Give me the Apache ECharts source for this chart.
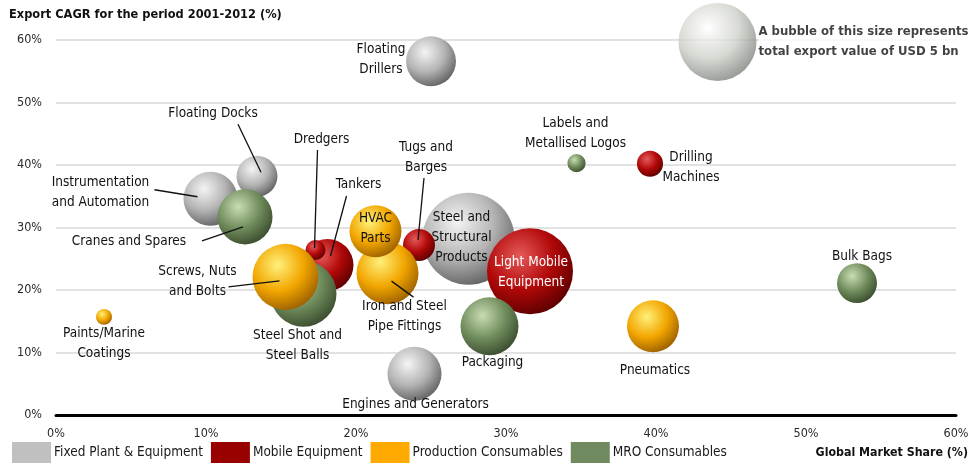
<!DOCTYPE html>
<html>
<head>
<meta charset="utf-8">
<script src="https://cdn.jsdelivr.net/npm/echarts@6/dist/echarts.min.js"></script>
<style>
  html, body { margin: 0; padding: 0; background: #ffffff; }
  #chart { width: 975px; height: 463px; }
</style>
</head>
<body>
<div id="chart"></div>
<script>
// Product groups (legend order)
const groups = ['Fixed Plant & Equipment', 'Mobile Equipment', 'Production Consumables', 'MRO Consumables'];

// Products: group index, global market share (%), export CAGR 2001-2012 (%), export value (USD bn)
const products = [
  'Floating Drillers', 'Floating Docks', 'Instrumentation and Automation', 'Steel and Structural Products', 'Engines and Generators',
  'Tankers', 'Dredgers', 'Tugs and Barges', 'Light Mobile Equipment', 'Drilling Machines',
  'Iron and Steel Pipe Fittings', 'HVAC Parts', 'Screws, Nuts and Bolts', 'Pneumatics', 'Paints/Marine Coatings',
  'Cranes and Spares', 'Steel Shot and Steel Balls', 'Packaging', 'Labels and Metallised Logos', 'Bulk Bags'
];
const productGroup = [0, 0, 0, 0, 0, 1, 1, 1, 1, 1, 2, 2, 2, 2, 2, 3, 3, 3, 3, 3];
const marketShare = [25.0, 13.4, 10.3, 27.5, 23.9, 18.1, 17.3, 24.2, 31.6, 39.6, 22.1, 21.3, 15.3, 39.8, 3.2, 12.6, 16.5, 28.9, 34.7, 53.4];
const exportCagr  = [56.6, 38.2, 34.6, 28.2, 6.6, 24.0, 26.4, 27.2, 23.0, 40.2, 22.7, 29.4, 22.1, 14.2, 15.7, 31.7, 19.4, 14.2, 40.3, 21.1];
const exportValue = [2.05, 1.38, 2.40, 6.96, 2.40, 2.22, 0.33, 0.84, 6.08, 0.56, 3.16, 2.22, 3.58, 2.22, 0.21, 2.49, 3.58, 2.76, 0.27, 1.31];

// Size key bubble
const keyValue = 5;
const keyPosition = [44.1, 59.7];
const keyText = 'A bubble of this size represents\ntotal export value of USD 5 bn';

// Axis ticks
const tickValues = [0, 10, 20, 30, 40, 50, 60];

// ---- styling ----
const FONT = '"Liberation Sans Narrow", "Arial Narrow", "DejaVu Sans Condensed", sans-serif';
const KEY_DIAMETER = 78;
const bubbleSize = (v) => KEY_DIAMETER * Math.sqrt(v / keyValue);

const flatColors = ['#c0c0c0', '#990000', '#ffaa00', '#6f8a5f'];
const sphereStops = [
  ['#f4f4f4', '#b4b4b4', '#626262'],
  ['#e65a5a', '#b10808', '#5c0000'],
  ['#fff07a', '#f2a600', '#9c6000'],
  ['#c9dcb4', '#708c5c', '#3a4c2e']
];
const sphere = (stops) => ({
  type: 'radial', x: 0.38, y: 0.32, r: 0.72,
  colorStops: [
    { offset: 0, color: stops[0] },
    { offset: 0.55, color: stops[1] },
    { offset: 1, color: stops[2] }
  ]
});
const groupZ = [2, 3, 5, 4];

// Label placement relative to bubble centre (px)
const labelStyle = {
  'Floating Drillers': { text: 'Floating\nDrillers', offset: [-50, -2] },
  'Floating Docks': { text: 'Floating Docks', offset: [-44, -63] },
  'Instrumentation and Automation': { text: 'Instrumentation\nand Automation', offset: [-110, -6] },
  'Steel and Structural Products': { text: 'Steel and\nStructural\nProducts', offset: [-7, -1] },
  'Engines and Generators': { text: 'Engines and Generators', offset: [1, 31] },
  'Tankers': { text: 'Tankers', offset: [31, -81] },
  'Dredgers': { text: 'Dredgers', offset: [6, -111] },
  'Tugs and Barges': { text: 'Tugs and\nBarges', offset: [7, -88] },
  'Light Mobile Equipment': { text: 'Light Mobile\nEquipment', offset: [1, 1], color: '#ffffff' },
  'Drilling Machines': { text: 'Drilling\nMachines', offset: [41, 4] },
  'Iron and Steel Pipe Fittings': { text: 'Iron and Steel\nPipe Fittings', offset: [17, 43] },
  'HVAC Parts': { text: 'HVAC\nParts', offset: [0, -3] },
  'Screws, Nuts and Bolts': { text: 'Screws, Nuts\nand Bolts', offset: [-88, 5] },
  'Pneumatics': { text: 'Pneumatics', offset: [2, 44] },
  'Paints/Marine Coatings': { text: 'Paints/Marine\nCoatings', offset: [0, 27] },
  'Cranes and Spares': { text: 'Cranes and Spares', offset: [-116, 25] },
  'Steel Shot and Steel Balls': { text: 'Steel Shot and\nSteel Balls', offset: [-6, 52] },
  'Packaging': { text: 'Packaging', offset: [3, 36] },
  'Labels and Metallised Logos': { text: 'Labels and\nMetallised Logos', offset: [-1, -30] },
  'Bulk Bags': { text: 'Bulk Bags', offset: [5, -27] }
};

// Leader lines: [startDx, startDy, endDx, endDy] relative to bubble centre (px)
const leaderStyle = {
  'Floating Docks': [4, -4, -19, -52],
  'Instrumentation and Automation': [-13, -2, -56, -9],
  'Cranes and Spares': [-2, 10, -43, 24],
  'Dredgers': [-1, -2, 2, -100],
  'Tankers': [3, -9, 19, -69],
  'Tugs and Barges': [-1, -5, 5, -67],
  'Screws, Nuts and Bolts': [-6, 4, -57, 10],
  'Iron and Steel Pipe Fittings': [4, 8, 26, 24]
};

const chart = echarts.init(document.getElementById('chart'), null, { renderer: 'canvas' });

const bubbleSeries = groups.map((g, gi) => ({
  name: g,
  type: 'scatter',
  z: groupZ[gi],
  symbol: 'circle',
  symbolSize: (val) => bubbleSize(val[2]),
  itemStyle: { color: sphere(sphereStops[gi]), opacity: 1 },
  emphasis: { disabled: true },
  label: {
    show: true,
    position: 'inside',
    fontFamily: FONT,
    fontSize: 13.5,
    lineHeight: 20,
    color: '#111111',
    align: 'center',
    verticalAlign: 'middle'
  },
  data: products
    .map((p, i) => ({ p, i }))
    .filter(({ i }) => productGroup[i] === gi)
    .map(({ p, i }) => {
      const ls = labelStyle[p];
      return {
        name: p,
        value: [marketShare[i], exportCagr[i], exportValue[i]],
        label: {
          formatter: ls.text,
          offset: ls.offset,
          color: ls.color || '#111111'
        }
      };
    })
}));

const keySeries = {
  name: 'size key',
  type: 'scatter',
  z: 2,
  symbolSize: (val) => bubbleSize(val[2]),
  itemStyle: { color: sphere(['#ffffff', '#cdd0c9', '#7c8079']) },
  emphasis: { disabled: true },
  label: {
    show: true,
    position: 'right',
    distance: 2,
    formatter: keyText,
    fontFamily: FONT,
    fontSize: 13,
    fontWeight: 'bold',
    lineHeight: 20,
    color: '#111111',
    backgroundColor: '#ffffff',
    padding: [0, 8, 0, 0]
  },
  data: [[keyPosition[0], keyPosition[1], keyValue]]
};

const leaderSeries = {
  type: 'custom',
  z: 20,
  clip: false,
  silent: true,
  data: products
    .map((p, i) => ({ p, i }))
    .filter(({ p }) => leaderStyle[p])
    .map(({ p, i }) => ({ name: p, value: [marketShare[i], exportCagr[i]] })),
  renderItem: (params, api) => {
    const c = api.coord([api.value(0), api.value(1)]);
    const name = leaderSeries.data[params.dataIndex].name;
    const o = leaderStyle[name];
    return {
      type: 'line',
      shape: { x1: c[0] + o[0], y1: c[1] + o[1], x2: c[0] + o[2], y2: c[1] + o[3] },
      style: { stroke: '#111111', lineWidth: 1.3 }
    };
  }
};

const option = {
  animation: false,
  backgroundColor: '#ffffff',
  title: [
    {
      text: 'Export CAGR for the period 2001-2012 (%)',
      left: 9, top: 8, padding: 0,
      textStyle: { fontFamily: FONT, fontSize: 12.7, fontWeight: 'bold', color: '#111111' }
    },
    {
      text: 'Global Market Share (%)',
      right: 7, bottom: 4, padding: 0,
      textStyle: { fontFamily: FONT, fontSize: 12.3, fontWeight: 'bold', color: '#111111' }
    }
  ],
  legend: {
    left: 12, bottom: 0, padding: 0,
    itemWidth: 39, itemHeight: 21, itemGap: 8,
    icon: 'rect',
    selectedMode: false,
    textStyle: { fontFamily: FONT, fontSize: 13.5, color: '#1a1a1a', padding: [2, 0, 0, -2] },
    data: groups.map((g, gi) => ({ name: g, itemStyle: { color: flatColors[gi] } }))
  },
  grid: { left: 56, right: 19, top: 40, bottom: 48, containLabel: false },
  xAxis: {
    type: 'value',
    min: tickValues[0], max: tickValues[tickValues.length - 1], interval: tickValues[1] - tickValues[0],
    axisLine: { show: true, lineStyle: { color: '#000000', width: 3 } },
    axisTick: { show: false },
    splitLine: { show: false },
    axisLabel: { formatter: '{value}%', fontFamily: FONT, fontSize: 12.5, color: '#2a2a2a', margin: 12 }
  },
  yAxis: {
    type: 'value',
    min: tickValues[0], max: tickValues[tickValues.length - 1], interval: tickValues[1] - tickValues[0],
    axisLine: { show: false },
    axisTick: { show: false },
    splitLine: { show: true, lineStyle: { color: '#d9d9d9', width: 1.5 } },
    axisLabel: { formatter: '{value}%', fontFamily: FONT, fontSize: 12.5, color: '#2a2a2a', margin: 14 }
  },
  series: [...bubbleSeries, keySeries, leaderSeries]
};

chart.setOption(option);
</script>
</body>
</html>
